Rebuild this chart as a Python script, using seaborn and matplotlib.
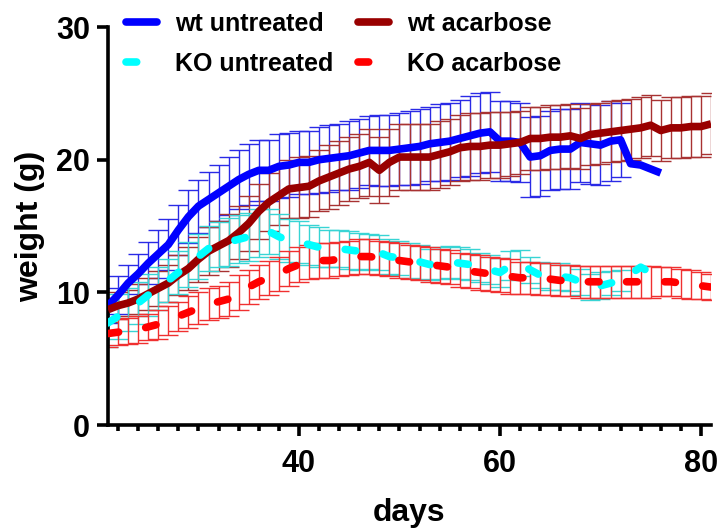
import numpy as np
import pandas as pd
import matplotlib
matplotlib.use("Agg")
import matplotlib.pyplot as plt
from matplotlib.ticker import MultipleLocator, FixedLocator
from matplotlib.lines import Line2D
import seaborn as sns

nan = np.nan
days = list(range(21, 82))

wt_untreated = [9.0, 9.8, 10.7, 11.4, 12.2, 12.9, 13.6, 14.7, 15.7, 16.5,
                17.0, 17.5, 18.0, 18.5, 18.9, 19.2, 19.2, 19.5, 19.6, 19.8,
                19.8, 20.0, 20.1, 20.2, 20.3, 20.5, 20.7, 20.7, 20.7, 20.8,
                20.9, 21.0, 21.2, 21.3, 21.4, 21.6, 21.8, 22.0, 22.1, 21.4,
                21.4, 21.3, 20.2, 20.3, 20.7, 20.8, 20.8, 21.3, 21.2, 21.1,
                21.4, 21.5, 19.7, 19.6, 19.3, 19.0, nan, nan, nan, nan, nan]
wt_untreated_sd = [1.3, 1.4, 1.4, 1.5, 1.6, 1.8, 1.9, 1.9, 2.0, 2.0,
                   2.1, 2.1, 2.2, 2.2, 2.3, 2.3, 2.3, 2.4, 2.4, 2.4,
                   2.4, 2.5, 2.5, 2.5, 2.6, 2.6, 2.6, 2.7, 2.7, 2.7,
                   2.8, 2.8, 2.8, 2.9, 2.9, 2.9, 3.0, 3.0, 3.0, 3.0,
                   3.0, 3.0, 3.0, 3.0, 3.0, 3.0, 3.0, 3.0, 3.0, 3.0,
                   3.0, 2.8, nan, nan, nan, nan, nan, nan, nan, nan, nan]

wt_acarbose = [8.7, 9.0, 9.2, 9.5, 9.9, 10.3, 10.7, 11.3, 11.8, 12.5,
               13.1, 13.5, 13.9, 14.5, 15.2, 16.1, 16.8, 17.3, 17.8, 17.9,
               18.0, 18.4, 18.7, 19.0, 19.3, 19.5, 19.8, 19.2, 19.8, 20.2,
               20.2, 20.2, 20.2, 20.4, 20.6, 20.9, 21.0, 21.0, 21.1, 21.1,
               21.2, 21.3, 21.6, 21.6, 21.7, 21.7, 21.8, 21.6, 21.9, 22.0,
               22.1, 22.2, 22.3, 22.4, 22.6, 22.2, 22.4, 22.4, 22.5, 22.5,
               22.7]
wt_acarbose_sd = [0.9, 1.0, 1.0, 1.1, 1.2, 1.3, 1.4, 1.5, 1.6, 1.7,
                  1.8, 1.9, 2.0, 2.0, 2.1, 2.1, 2.2, 2.2, 2.2, 2.3,
                  2.3, 2.3, 2.4, 2.4, 2.4, 2.4, 2.5, 2.5, 2.5, 2.5,
                  2.5, 2.5, 2.5, 2.5, 2.5, 2.5, 2.5, 2.5, 2.5, 2.5,
                  2.4, 2.4, 2.4, 2.4, 2.4, 2.4, 2.4, 2.3, 2.3, 2.3,
                  2.3, 2.3, 2.3, 2.3, 2.3, 2.3, 2.3, 2.3, 2.3, 2.3,
                  2.3]

ko_untreated = [7.7, 8.2, 8.7, 9.2, 9.8, 10.3, 10.9, 11.5, 12.1, 12.7,
                13.3, 13.6, 13.8, 14.0, 14.2, 14.5, 14.6, 14.2, 13.9, 13.8,
                13.6, 13.4, 13.3, 13.3, 13.2, 13.1, 13.1, 13.0, 12.7, 12.6,
                12.4, 12.3, 12.1, 12.2, 12.3, 12.2, 12.1, 11.9, 11.7, 11.5,
                12.0, 12.2, 11.7, 11.3, 11.2, 11.2, 11.1, 10.8, 10.4, 10.5,
                10.7, 10.9, 11.4, 11.9, 11.5, nan, nan, nan, nan, nan, nan]
ko_untreated_sd = [1.8, 1.7, 1.6, 1.6, 1.6, 1.6, 1.6, 1.6, 1.7, 1.7,
                   1.7, 1.7, 1.8, 1.8, 1.8, 1.8, 1.7, 1.7, 1.6, 1.6,
                   1.5, 1.5, 1.4, 1.4, 1.4, 1.4, 1.3, 1.3, 1.3, 1.3,
                   1.3, 1.3, 1.2, 1.2, 1.2, 1.2, 1.2, 1.1, 1.1, 1.1,
                   1.1, 1.0, 1.0, 1.0, 1.0, 1.0, 1.0, 1.0, 1.0, 1.0,
                   0.9, 0.8, nan, nan, nan, nan, nan, nan, nan, nan, nan]

ko_acarbose = [6.9, 7.0, 7.1, 7.2, 7.4, 7.6, 7.9, 8.2, 8.5, 8.8,
               9.1, 9.3, 9.5, 10.0, 10.4, 10.8, 11.1, 11.4, 11.8, 12.1,
               12.3, 12.4, 12.4, 12.5, 12.6, 12.7, 12.7, 12.6, 12.5, 12.4,
               12.3, 12.2, 12.1, 12.0, 11.9, 11.7, 11.6, 11.5, 11.4, 11.3,
               11.2, 11.1, 11.1, 11.0, 11.0, 10.9, 10.9, 10.8, 10.8, 10.8,
               10.8, 10.8, 10.8, 10.8, 10.8, 10.8, 10.8, 10.7, 10.6, 10.5,
               10.4]
ko_acarbose_sd = [1.0, 1.0, 1.0, 1.0, 1.0, 1.1, 1.1, 1.1, 1.2, 1.2,
                  1.2, 1.2, 1.3, 1.3, 1.3, 1.3, 1.3, 1.3, 1.3, 1.3,
                  1.3, 1.3, 1.3, 1.3, 1.3, 1.3, 1.3, 1.3, 1.3, 1.3,
                  1.3, 1.3, 1.3, 1.3, 1.3, 1.3, 1.3, 1.3, 1.3, 1.3,
                  1.3, 1.2, 1.2, 1.2, 1.2, 1.2, 1.2, 1.2, 1.2, 1.2,
                  1.2, 1.2, 1.2, 1.2, 1.2, 1.1, 1.1, 1.1, 1.1, 1.0,
                  1.0]

labels = ["wt untreated", "wt acarbose", "KO untreated", "KO acarbose"]
line_colors = ["#0000ff", "#990000", "#00ffff", "#ff0000"]
err_colors = ["#2a2ae6", "#a83232", "#38d4d4", "#f03030"]
dash_style = (0, (1.4, 3.6))

sns.set_theme(style="ticks")
plt.rcParams["font.family"] = ["Liberation Sans", "DejaVu Sans"]
plt.rcParams["font.weight"] = "bold"
plt.rcParams["text.color"] = "black"
plt.rcParams["axes.labelcolor"] = "black"
plt.rcParams["xtick.color"] = "black"
plt.rcParams["ytick.color"] = "black"

fig = plt.figure(figsize=(7.2, 5.3), dpi=100)
ax = fig.add_axes([0.15, 0.198, 0.8375, 0.751])

series = [
    (wt_untreated, wt_untreated_sd),
    (wt_acarbose, wt_acarbose_sd),
    (ko_untreated, ko_untreated_sd),
    (ko_acarbose, ko_acarbose_sd),
]

for (mean, sd), ec in zip(series, err_colors):
    ax.errorbar(days, mean, yerr=sd, fmt="none", ecolor=ec,
                elinewidth=1.0, capsize=7, capthick=1.0, zorder=2)

order = [0, 1, 3, 2]
for i in order:
    mean, sd = series[i]
    df = pd.DataFrame({"days": days, "weight": mean}).dropna()
    ls = "-" if i < 2 else dash_style
    sns.lineplot(data=df, x="days", y="weight", ax=ax, color=line_colors[i],
                 linewidth=5.5, linestyle=ls,
                 dash_capstyle="round", solid_capstyle="butt",
                 solid_joinstyle="round", zorder=3 + i, legend=False)

ax.set_xlim(21, 81)
ax.set_ylim(0, 30)
ax.xaxis.set_major_locator(FixedLocator([40, 60, 80]))
ax.xaxis.set_minor_locator(FixedLocator(list(range(22, 81, 2))))
ax.yaxis.set_major_locator(MultipleLocator(10))

for s in ["top", "right"]:
    ax.spines[s].set_visible(False)
for s in ["left", "bottom"]:
    ax.spines[s].set_linewidth(2.6)
    ax.spines[s].set_color("black")

ax.tick_params(axis="both", which="major", length=8, width=2.6,
               labelsize=22, color="black", labelcolor="black")
ax.tick_params(axis="x", which="major", pad=9)
ax.tick_params(axis="y", which="major", pad=5)
ax.tick_params(axis="x", which="minor", length=4, width=2.6, color="black")
for lab in ax.get_xticklabels() + ax.get_yticklabels():
    lab.set_fontweight("bold")

ax.set_xlabel("days", fontsize=23, fontweight="bold", labelpad=14, color="black")
ax.set_ylabel("weight (g)", fontsize=23, fontweight="bold", labelpad=8, color="black")
ax.grid(False)

hs = []
for i in range(4):
    ls = "-" if i < 2 else dash_style
    hs.append(Line2D([0], [0], color=line_colors[i], lw=5.5, linestyle=ls,
                     dash_capstyle="round"))
# column-wise fill: col1 = wt untreated, KO untreated; col2 = wt acarbose, KO acarbose
leg_order = [0, 2, 1, 3]
leg = fig.legend([hs[k] for k in leg_order], [labels[k] for k in leg_order],
                 loc="upper left", ncol=2,
                 bbox_to_anchor=(126 / 720, 1 - 12 / 530), frameon=False,
                 prop={"size": 18, "weight": "bold"},
                 handlelength=1.25, handletextpad=0.7, columnspacing=1.0,
                 labelspacing=0.64, borderpad=0, borderaxespad=0)
for t in leg.get_texts():
    t.set_color("black")

fig.savefig("out.png", dpi=100)
